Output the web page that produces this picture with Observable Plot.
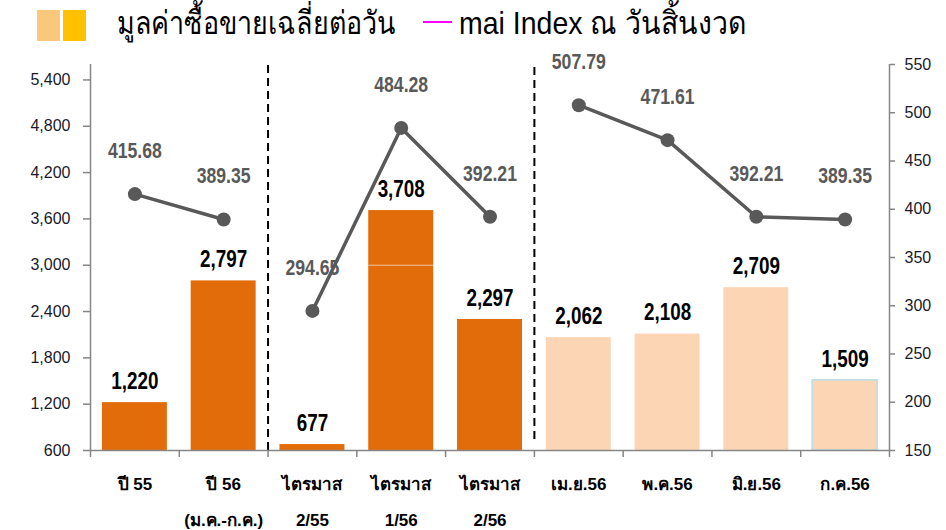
<!DOCTYPE html>
<html><head><meta charset="utf-8">
<script src="https://cdn.jsdelivr.net/npm/d3@7"></script>
<script src="https://cdn.jsdelivr.net/npm/@observablehq/plot@0.6"></script>
<style>
body{margin:0;background:#fff;width:946px;height:530px;overflow:hidden;font-family:"Liberation Sans",Arial,sans-serif;}
#legend{position:relative;height:50px;}
#legend .sw{position:absolute;top:10px;width:23px;height:31px;}
#legend .lt{position:absolute;top:2px;font-size:32px;line-height:42px;color:#000;white-space:nowrap;transform-origin:0 50%;}
#legend .ln{position:absolute;top:21px;width:29px;height:2px;background:#FF00FF;}
</style></head><body>
<div id="legend">
  <span class="sw" style="left:37px;background:#FAC87A"></span>
  <span class="sw" style="left:63px;background:#FFC000"></span>
  <span class="lt" style="left:117px;transform:scaleX(0.84)">มูลค่าซื้อขายเฉลี่ยต่อวัน</span>
  <span class="ln" style="left:423px"></span>
  <span class="lt" style="left:459px;transform:scaleX(0.89)">mai Index ณ วันสิ้นงวด</span>
</div>
<div id="chart"></div>
<script>
const categories = ["ปี 55", "ปี 56\n(ม.ค.-ก.ค.)", "ไตรมาส\n2/55", "ไตรมาส\n1/56", "ไตรมาส\n2/56", "เม.ย.56", "พ.ค.56", "มิ.ย.56", "ก.ค.56"];
const groups = ["ปี", "ปี", "ไตรมาส", "ไตรมาส", "ไตรมาส", "เดือน", "เดือน", "เดือน", "เดือน"];
const tradingValue = [1220, 2797, 677, 3708, 2297, 2062, 2108, 2709, 1509];
const maiIndex = [415.68, 389.35, 294.65, 484.28, 392.21, 507.79, 471.61, 392.21, 389.35];
const leftTicks = [600, 1200, 1800, 2400, 3000, 3600, 4200, 4800, 5400];
const rightTicks = [150, 200, 250, 300, 350, 400, 450, 500, 550];
const leftDomain = [600, 5600];
const rightDomain = [150, 550];

const toLeft = v => leftDomain[0] + (v - rightDomain[0]) * (leftDomain[1] - leftDomain[0]) / (rightDomain[1] - rightDomain[0]);
const fromLeft = v => rightDomain[0] + (v - leftDomain[0]) * (rightDomain[1] - rightDomain[0]) / (leftDomain[1] - leftDomain[0]);

const rows = categories.map((c, i) => ({i, category: c, group: groups[i], value: tradingValue[i], index: maiIndex[i]}));
const boundaries = rows.filter((d, i) => i > 0 && groups[i] !== groups[i - 1]).map(d => d.i - 0.5);
const edges = d3.range(-0.5, categories.length, 1);
const half = 0.366;
const FONT = '"Liberation Sans",Arial,sans-serif';

const chart = Plot.plot({
  width: 946,
  height: 480,
  marginLeft: 90,
  marginRight: 57,
  marginTop: 14,
  marginBottom: 80,
  style: {fontFamily: FONT, background: "#fff", overflow: "visible"},
  x: {type: "linear", domain: [-0.5, categories.length - 0.5], axis: null},
  y: {domain: leftDomain, axis: null},
  marks: [
    Plot.rect(rows, {
      x1: d => d.i - half, x2: d => d.i + half, y1: leftDomain[0], y2: "value",
      fill: d => d.group === "เดือน" ? "#FCD5B5" : "#E36C0A",
      stroke: d => d.category === "ก.ค.56" ? "#B7DEE8" : "none",
      strokeWidth: 1.5
    }),
    Plot.ruleY(rows.filter(d => d.value > 3000), {
      y: () => 3000, x1: d => d.i - half, x2: d => d.i + half, stroke: "#fff", strokeOpacity: 0.6, strokeWidth: 1
    }),
    Plot.ruleX(boundaries.slice(0, 1), {y1: leftDomain[0], y2: leftDomain[1], stroke: "#000", strokeWidth: 2, strokeDasharray: "8,5"}),
    Plot.ruleX(boundaries.slice(1), {y1: leftDomain[0], y2: leftDomain[1], insetTop: -11, stroke: "#000", strokeWidth: 2, strokeDasharray: "8,5"}),
    Plot.ruleX([-0.5, categories.length - 0.5], {y1: leftDomain[0], y2: leftDomain[1], stroke: "#868686", strokeWidth: 1.5}),
    Plot.ruleY([leftDomain[0]], {stroke: "#868686", strokeWidth: 1.5}),
    Plot.axisX({ticks: edges, tickFormat: () => "", tickSize: 7, stroke: "#868686", strokeWidth: 1.5, label: null}),
    Plot.axisY({ticks: leftTicks, tickFormat: d3.format(","), anchor: "left", tickSize: 7, tickPadding: 13,
      stroke: "#868686", strokeWidth: 1.5, fill: "#1a1a2a", fontSize: 16, label: null}),
    Plot.axisY({ticks: rightTicks.map(toLeft), tickFormat: d => String(Math.round(fromLeft(d))), anchor: "right",
      tickSize: 5, tickPadding: 10, stroke: "#868686", strokeWidth: 1.5, fill: "#1a1a2a", fontSize: 16, label: null}),
    Plot.line(rows, {x: "i", y: d => toLeft(d.index), z: "group", stroke: "#595959", strokeWidth: 3.5}),
    Plot.dot(rows, {x: "i", y: d => toLeft(d.index), r: 7, fill: "#595959"}),
    Plot.text(rows, {x: "i", y: "value", text: d => d3.format(",")(d.value), dy: -21,
      fontSize: 23, fontWeight: "bold", fill: "#000"}),
    Plot.text(rows, {x: "i", y: d => toLeft(d.index), text: d => d3.format(".2f")(d.index), dy: -43,
      fontSize: 21.5, fontWeight: "bold", fill: "#595959"}),
    Plot.text(rows, {x: "i", y: leftDomain[0], text: "category", dy: 14, lineAnchor: "top", lineHeight: 2.12,
      fontSize: 17, fontWeight: "bold", fill: "#000"})
  ]
});

// condense the numeric data labels horizontally, as in the reference's narrow typeface
d3.select(chart).selectAll("text").each(function() {
  const g = this.closest("g[aria-label]");
  const label = g ? g.getAttribute("aria-label") : "";
  if (/axis/.test(label)) return;
  if (!/^[\d.,]+$/.test(this.textContent.trim())) return;
  const t = this.getAttribute("transform");
  if (t) {
    this.setAttribute("transform", t + " scale(0.82,1)");
  } else {
    const x = +this.getAttribute("x") || 0, y = +this.getAttribute("y") || 0;
    this.setAttribute("transform", `translate(${x},${y}) scale(0.82,1) translate(${-x},${-y})`);
  }
});
document.getElementById("chart").appendChild(chart);
</script>
</body></html>
